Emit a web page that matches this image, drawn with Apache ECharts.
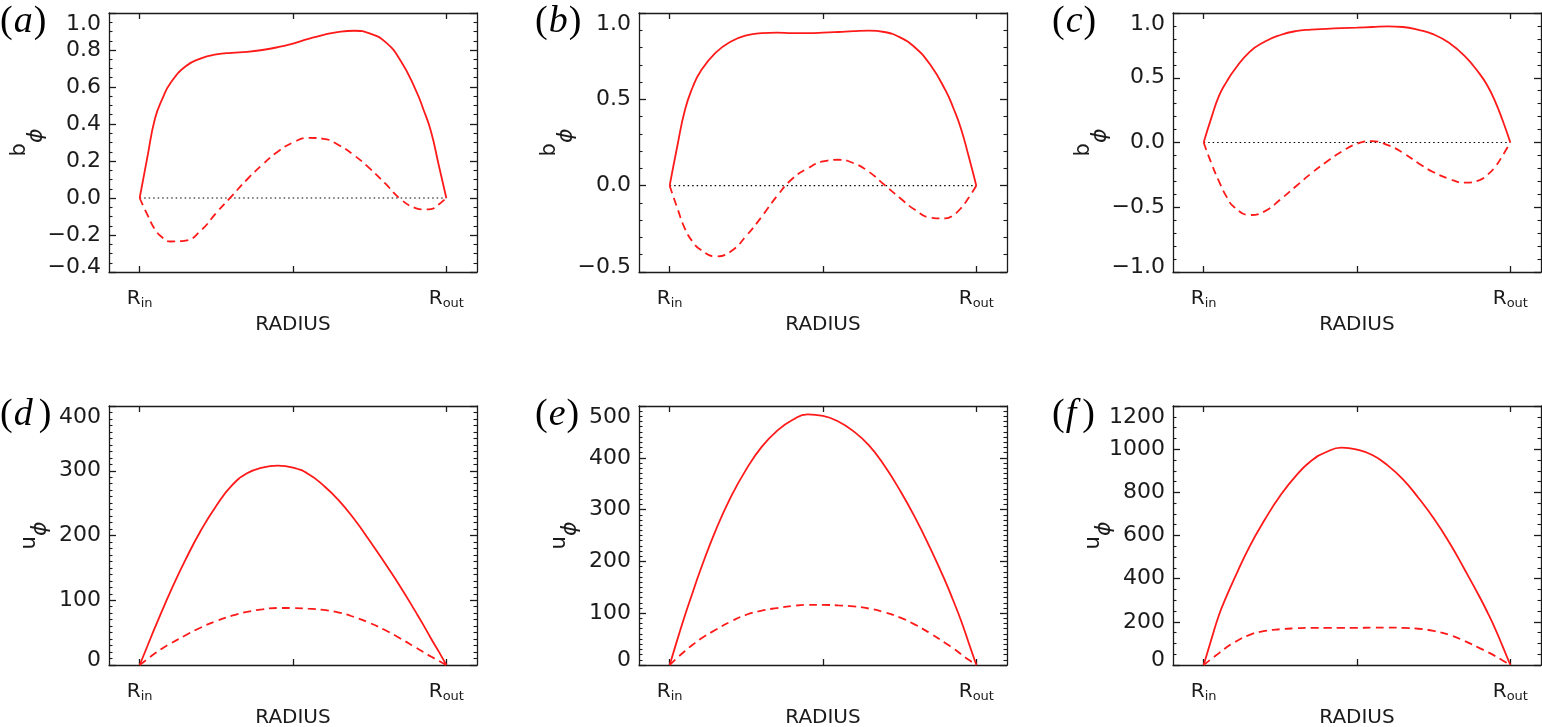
<!DOCTYPE html>
<html><head><meta charset="utf-8">
<script src="https://cdn.jsdelivr.net/npm/echarts@6/dist/echarts.min.js"></script>
<style>html,body{margin:0;padding:0;background:#fff}#c{width:1542px;height:727px}</style>
</head><body><div id="c"></div>
<script>
// ---- data ----
const radius = [0,0.025,0.05,0.075,0.1,0.15,0.2,0.25,0.3,0.35,0.4,0.45,0.5,0.55,0.6,0.65,0.7,0.75,0.8,0.85,0.9,0.925,0.95,0.975,1];
const xTickValues = [0, 0.5, 1];
const xLabelValues = [0, 1];
const xLabelSubs = ['in', 'out'];
const panelLetters = ['a','b','c','d','e','f'];
const yNames = ['b','b','b','u','u','u'];

const aSolid  = [0,0.22,0.43,0.54,0.62,0.712,0.755,0.776,0.785,0.79,0.80,0.815,0.835,0.86,0.882,0.898,0.904,0.89,0.845,0.745,0.585,0.48,0.36,0.18,0];
const aDashed = [0,-0.09,-0.17,-0.215,-0.235,-0.23,-0.175,-0.08,0.01,0.10,0.18,0.25,0.30,0.325,0.32,0.285,0.23,0.16,0.08,-0.005,-0.055,-0.062,-0.06,-0.035,0];
const bSolid  = [0,0.23,0.44,0.57,0.66,0.77,0.835,0.87,0.883,0.886,0.884,0.884,0.886,0.89,0.895,0.898,0.89,0.86,0.80,0.70,0.55,0.45,0.33,0.17,0];
const bDashed = [0,-0.13,-0.25,-0.325,-0.37,-0.41,-0.38,-0.29,-0.18,-0.06,0.04,0.10,0.14,0.15,0.13,0.08,0.005,-0.07,-0.14,-0.185,-0.19,-0.17,-0.13,-0.07,0];
const cSolid  = [0,0.19,0.36,0.47,0.56,0.70,0.78,0.83,0.86,0.872,0.878,0.883,0.887,0.892,0.897,0.892,0.87,0.835,0.77,0.67,0.53,0.44,0.32,0.17,0];
const cDashed = [0,-0.16,-0.30,-0.42,-0.50,-0.56,-0.53,-0.44,-0.34,-0.24,-0.15,-0.07,-0.01,0.01,-0.02,-0.08,-0.16,-0.23,-0.28,-0.31,-0.29,-0.25,-0.19,-0.10,0];
const dSolid  = [0,29,58,86,113,163,208,246,277,296,305,308,305,295,277,254,225,192,157,121,82,62,41,21,0];
const dDashed = [0,9,18,26,33,46,58,68,76,82,86,88,88,87,85,81,74,65,54,41,27,20,13,6.5,0];
const eSolid  = [0,49,96,140,183,260,325,378,421,452,473,484,481,470,451,424,385,338,285,225,160,124,86,43,0];
const eDashed = [0,14,27,39,50,68,84,97,105,110,114,116,116,115,113,109,102,92,78,61,42,32,21,10,0];
const fSolid  = [0,118,232,320,400,550,675,785,875,945,987,1007,998,973,925,860,775,680,570,445,315,245,170,86,0];
const fDashed = [0,28,55,82,105,140,158,166,170,172,172,172,172,173,173,172,168,158,140,112,78,61,42,21,0];

const zeroLineX = [0, 1];
const zeroLineY = [0, 0];

// y axis: [min, max, major step, minor subdivisions, decimals]
const yAxisA = [-0.4, 1.0, 0.2, 4, 1];
const yAxisB = [-0.5, 1.0, 0.5, 5, 1];
const yAxisC = [-1.0, 1.0, 0.5, 5, 1];
const yAxisD = [0, 400, 100, 10, 0];
const yAxisE = [0, 500, 100, 10, 0];
const yAxisF = [0, 1200, 200, 4, 0];

const solids = [aSolid,bSolid,cSolid,dSolid,eSolid,fSolid];
const dasheds = [aDashed,bDashed,cDashed,dDashed,eDashed,fDashed];
const yAxes = [yAxisA,yAxisB,yAxisC,yAxisD,yAxisE,yAxisF];

// ---- layout / style ----
const FONT = "DejaVu Sans";
const SERIF = "Liberation Serif";
const INK = '#1b1b1b';
const RED = '#ff1a1a';
const lefts = [109, 639, 1173];
const tops = [13, 406];
const W = 368, H = 259;
const nameGaps = [62, 62, 62, 58, 58, 58];
const namePads = [16, 16, 16, 10, 10, 10];

const pairs = (xs, ys) => xs.map((x, i) => [x, ys[i]]);

function yFormatter(cfg) {
  const mn = cfg[0], dec = cfg[4];
  return v => {
    const s = (Math.abs(v) < 1e-9 ? 0 : v).toFixed(dec).replace('-', '\u2212');
    return Math.abs(v - mn) < 1e-9 ? '{m|' + s + '}' : s;
  };
}

const grid = [], xAxis = [], yAxis = [], series = [], title = [];
const lineSt = {color: INK, width: 1.3};

panelLetters.forEach((L, i) => {
  const col = i % 3, row = Math.floor(i / 3);
  const cfg = yAxes[i];
  grid.push({left: lefts[col], top: tops[row], width: W, height: H, containLabel: false, outerBoundsMode: 'none'});
  const tickCommon = {show: true, inside: true, length: 6, lineStyle: lineSt};
  xAxis.push({
    gridIndex: i, type: 'value', min: -0.1, max: 1.1, position: 'bottom',
    axisLine: {show: true, onZero: false, lineStyle: lineSt},
    splitLine: {show: false},
    axisTick: Object.assign({customValues: xTickValues}, tickCommon),
    axisLabel: {
      show: true, customValues: xLabelValues, margin: 15,
      fontSize: 20, fontFamily: FONT, color: INK,
      formatter: v => '{r|R}{s|' + xLabelSubs[xLabelValues.indexOf(v)] + '}',
      rich: {
        r: {fontSize: 20, fontFamily: FONT, color: INK},
        s: {fontSize: 13, fontFamily: FONT, color: INK, padding: [10, 0, 0, 0]}
      }
    },
    name: 'RADIUS', nameLocation: 'middle', nameGap: 43,
    nameTextStyle: {fontSize: 20, fontFamily: FONT, color: INK}
  });
  xAxis.push({
    gridIndex: i, type: 'value', min: -0.1, max: 1.1, position: 'top',
    axisLine: {show: true, onZero: false, lineStyle: lineSt},
    splitLine: {show: false},
    axisTick: Object.assign({customValues: xTickValues}, tickCommon),
    axisLabel: {show: false}
  });
  const yCommon = {
    gridIndex: i, type: 'value', min: cfg[0], max: cfg[1], interval: cfg[2],
    axisLine: {show: true, onZero: false, lineStyle: lineSt},
    splitLine: {show: false},
    axisTick: {show: true, inside: true, length: 7, lineStyle: lineSt},
    minorTick: {show: true, splitNumber: cfg[3], length: 3.5, lineStyle: {color: INK, width: 1.1}}
  };
  yAxis.push(Object.assign({}, yCommon, {
    position: 'left',
    axisLabel: {
      show: true, margin: 8, showMinLabel: true, showMaxLabel: true,
      fontSize: 22, fontFamily: FONT, color: INK,
      verticalAlignMaxLabel: 'top',
      formatter: yFormatter(cfg),
      rich: {m: {fontSize: 22, fontFamily: FONT, color: INK, padding: [0, 0, 10, 0]}}
    },
    name: '{b|' + yNames[i] + '}{p|\u03D5}', nameLocation: 'middle', nameRotate: 90, nameGap: nameGaps[i],
    nameMoveOverlap: false,
    nameTextStyle: {
      fontSize: 21, fontFamily: FONT, color: INK,
      rich: {
        b: {fontSize: 21, fontFamily: FONT, color: INK, padding: [0, 0, namePads[i], 0]},
        p: {fontSize: 22, fontFamily: FONT, fontStyle: 'italic', color: INK, padding: [namePads[i], 0, 0, 0]}
      }
    }
  }));
  yAxis.push(Object.assign({}, yCommon, {position: 'right', axisLabel: {show: false}}));

  if (i < 3) {
    series.push({
      type: 'line', xAxisIndex: 2 * i, yAxisIndex: 2 * i, data: pairs(zeroLineX, zeroLineY),
      symbol: 'none', silent: true, z: 1,
      lineStyle: {color: '#000', width: 1.2, type: [1.5, 3]}
    });
  }
  series.push({
    type: 'line', xAxisIndex: 2 * i, yAxisIndex: 2 * i, data: pairs(radius, solids[i]),
    symbol: 'none', smooth: 0.5, z: 3, lineStyle: {color: RED, width: 1.8}
  });
  series.push({
    type: 'line', xAxisIndex: 2 * i, yAxisIndex: 2 * i, data: pairs(radius, dasheds[i]),
    symbol: 'none', smooth: 0.5, z: 3, lineStyle: {color: RED, width: 1.8, type: [8, 5]}
  });

  title.push({
    text: '{p|(}{i|' + L + '}{p|)}',
    left: [0, 535, 1052][col] , top: tops[row] - 10, padding: 0,
    textStyle: {
      fontWeight: 'normal', fontSize: 38, fontFamily: SERIF,
      rich: {
        p: {fontSize: 38, fontFamily: SERIF, fontWeight: 'normal', color: '#000'},
        i: {fontSize: 38, fontFamily: SERIF, fontStyle: 'italic', fontWeight: 'normal', color: '#000', padding: [0, L === 'd' || L === 'f' ? 6 : 1, 0, 1]}
      }
    }
  });
});

const chart = echarts.init(document.getElementById('c'), null, {renderer: 'canvas'});
chart.setOption({
  backgroundColor: '#fff',
  animation: false,
  title, grid, xAxis, yAxis, series
});
</script>
</body></html>
